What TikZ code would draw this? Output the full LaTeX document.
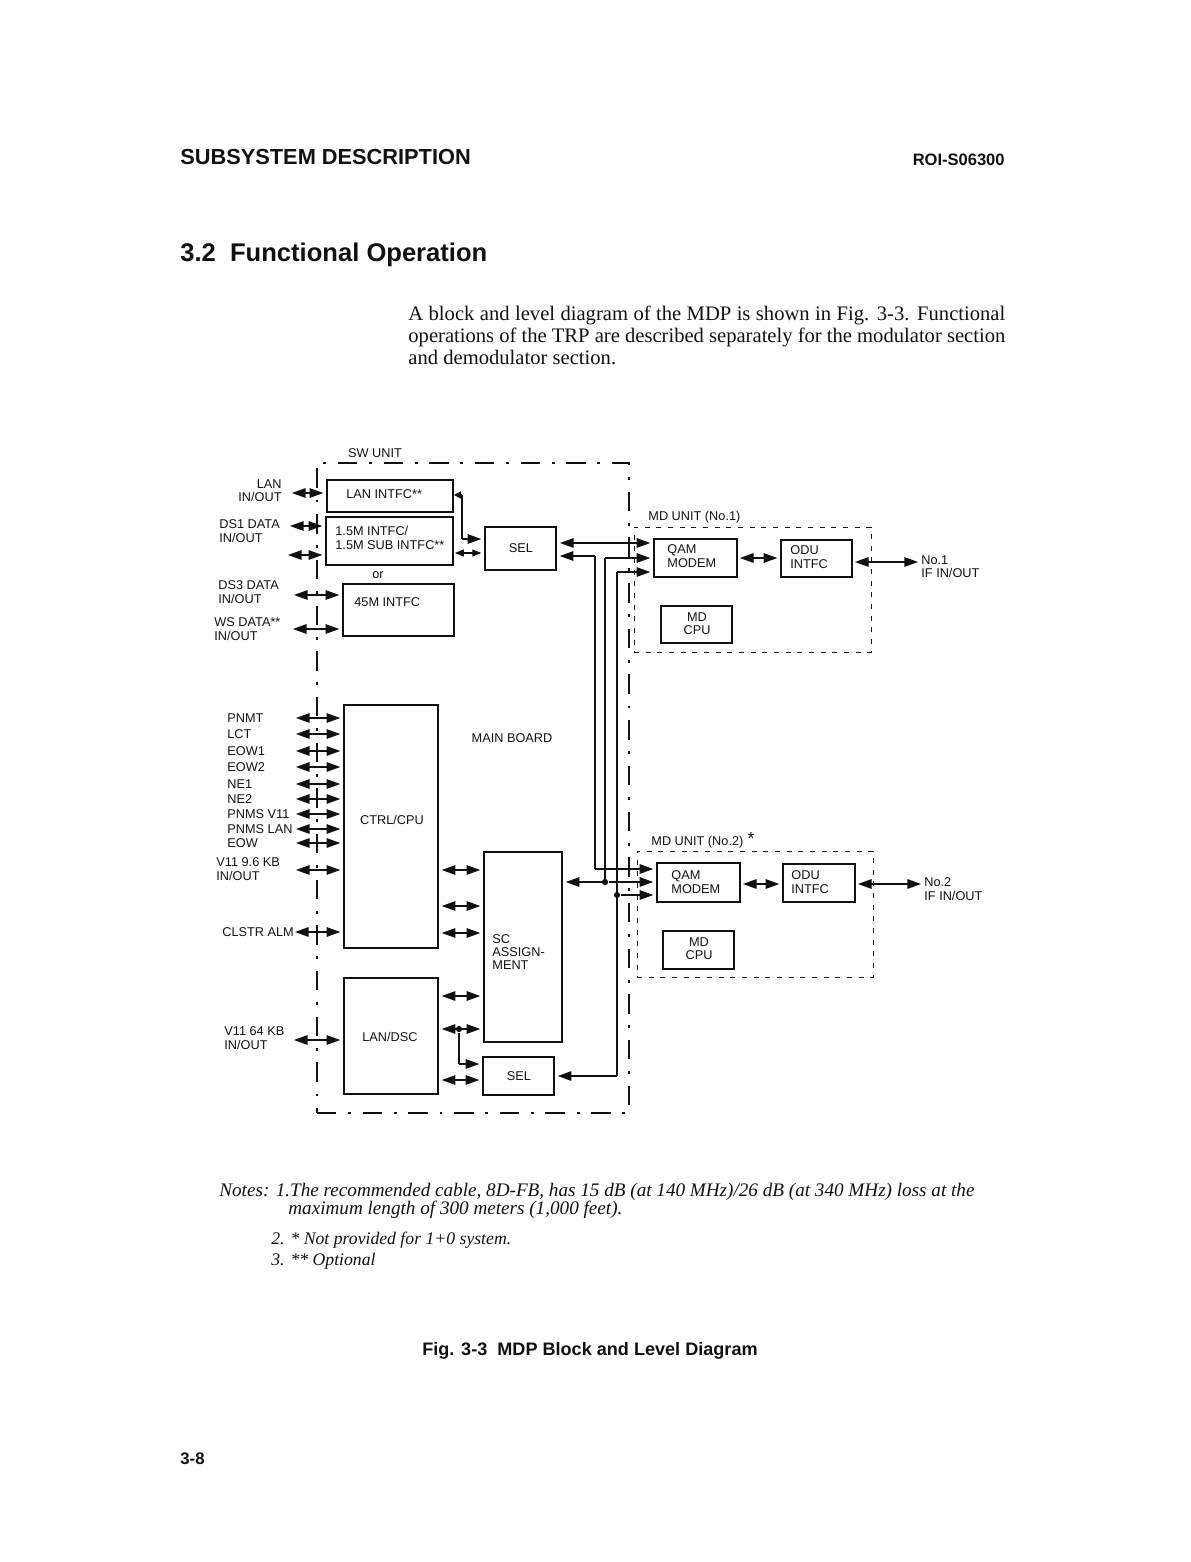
\documentclass[tikz,border=0pt]{standalone}
\usepackage{fontspec}
\usetikzlibrary{arrows.meta,fit}
\setmainfont{Liberation Serif}
\setsansfont{Liberation Sans}
\definecolor{ink}{HTML}{111111}

\begin{document}
\begin{tikzpicture}[x=0.5143pt, y=-0.5143pt, font=\sffamily, color=ink,
  blk/.style={draw=ink, line width=0.85pt, inner sep=0pt},
  swframe/.style={draw=ink, line width=0.55pt, inner sep=0pt,
                  dash pattern=on 10pt off 6pt on 1.5pt off 6pt},
  mdframe/.style={draw=ink, line width=0.5pt, inner sep=0pt,
                  dash pattern=on 2.6pt off 3.4pt},
  lbl/.style={font=\sffamily\fontsize{6.55}{6.8}\selectfont, inner sep=0pt},
  notetxt/.style={font=\rmfamily\itshape\fontsize{9.85}{10}\selectfont, anchor=west, inner sep=0pt},
  notesub/.style={font=\rmfamily\itshape\fontsize{9.1}{10}\selectfont, anchor=west, inner sep=0pt},
  biarr/.style={draw=ink, line width=0.55pt, shorten <=1.5pt, shorten >=1.5pt,
                {Triangle[length=7pt,width=4.9pt]}-{Triangle[length=7pt,width=4.9pt]}},
  biarrsmall/.style={draw=ink, line width=0.55pt, shorten <=1pt, shorten >=1.5pt,
                {Triangle[length=4.6pt,width=3.6pt]}-{Triangle[length=4.6pt,width=3.6pt]}},
  oneway/.style={draw=ink, line width=0.55pt, shorten >=1.5pt,
                 -{Triangle[length=7pt,width=4.9pt]}},
  onesmall/.style={draw=ink, line width=0.55pt, -{Triangle[length=3.6pt,width=3.6pt]}},
  wire/.style={draw=ink, line width=0.55pt},
  jdot/.style={circle, fill=ink, minimum size=3.2pt, inner sep=0pt}]
\useasboundingbox (0,0) rectangle (1190,1562);

% page text
\node[font=\sffamily\bfseries\fontsize{11.2}{13}\selectfont, anchor=west, inner sep=0pt] (head) at (180,157) {SUBSYSTEM DESCRIPTION};
\node[font=\sffamily\bfseries\fontsize{8.5}{12}\selectfont, anchor=east, inner sep=0pt] (roi) at (1005,160) {ROI-S06300};
\node[font=\sffamily\bfseries\fontsize{13.15}{16}\selectfont, anchor=west, inner sep=0pt] (sect) at (180,255) {3.2\ \ Functional Operation};
\node[font=\rmfamily\fontsize{10.6}{11.3}\selectfont, anchor=north west, inner sep=0pt, text width=307pt, align=justify] (intro) at (408,306)
  {A block and level diagram of the MDP is shown in Fig. 3-3. Functional operations of the TRP are described separately for the modulator section and demodulator section.};

% frames
\node[swframe, fit={(317,463) (629,1113)}] (swunit) {};
\node[lbl] (swlabel) at (375,453) {SW UNIT};
\node[mdframe, fit={(634,527) (871,652)}] (mdone) {};
\node[lbl, anchor=west] (mdonelabel) at (648,517) {MD UNIT (No.1)};
\node[mdframe, fit={(637,851) (873,977)}] (mdtwo) {};
\node[lbl, anchor=west] (mdtwolabel) at (651,842) {MD UNIT (No.2)};
\node[lbl, font=\sffamily\fontsize{9}{9}\selectfont] (mdtwostar) at (751,838) {*};

% blocks, upper left
\node[blk, fit={(327,480) (453,512)}] (lanintfc) {};
\node[lbl, anchor=west] (lanintfctxt) at (346,494) {LAN INTFC**};
\node[blk, fit={(326,517) (453,565)}] (subintfc) {};
\node[lbl, anchor=west, align=left] (subintfctxt) at (335,538) {1.5M INTFC/\\1.5M SUB INTFC**};
\node[lbl] (ortxt) at (378,575) {or};
\node[blk, fit={(343,584) (454,636)}] (intfcfour) {};
\node[lbl, anchor=west] (intfcfourtxt) at (354,602) {45M INTFC};
\node[blk, fit={(485,527) (556,570)}] (selup) {};
\node[lbl] (seluptxt) at (521,548) {SEL};

% blocks, main board
\node[blk, fit={(344,705) (438,948)}] (ctrlcpu) {};
\node[lbl] (ctrlcputxt) at (392,820) {CTRL/CPU};
\node[lbl] (mainboard) at (512,738) {MAIN BOARD};
\node[blk, fit={(484,852) (562,1042)}] (scassign) {};
\node[lbl, anchor=west, align=left] (scassigntxt) at (492,952) {SC\\ASSIGN-\\MENT};
\node[blk, fit={(344,978) (438,1094)}] (landsc) {};
\node[lbl] (landsctxt) at (390,1037) {LAN/DSC};
\node[blk, fit={(483,1057) (554,1095)}] (seldown) {};
\node[lbl] (seldowntxt) at (519,1076) {SEL};

% blocks, MD units
\node[blk, fit={(654,539) (737,577)}] (qamone) {};
\node[lbl, anchor=west, align=left] (qamonetxt) at (667,556) {QAM\\MODEM};
\node[blk, fit={(781,540) (852,577)}] (oduone) {};
\node[lbl, anchor=west, align=left] (oduonetxt) at (790,557) {ODU\\INTFC};
\node[blk, fit={(661,606) (732,643)}] (cpuone) {};
\node[lbl, align=center] (cpuonetxt) at (697,624) {MD\\CPU};
\node[blk, fit={(657,863) (740,902)}] (qamtwo) {};
\node[lbl, anchor=west, align=left] (qamtwotxt) at (671,882) {QAM\\MODEM};
\node[blk, fit={(783,864) (855,902)}] (odutwo) {};
\node[lbl, anchor=west, align=left] (odutwotxt) at (791,882) {ODU\\INTFC};
\node[blk, fit={(663,931) (734,969)}] (cputwo) {};
\node[lbl, align=center] (cputwotxt) at (699,949) {MD\\CPU};

% outer labels
\node[lbl, anchor=east, align=right] (lanlbl) at (282,491) {LAN\\IN/OUT};
\node[lbl, anchor=west, align=left] (dsonelbl) at (219,531) {DS1 DATA\\IN/OUT};
\node[lbl, anchor=west, align=left] (dsthreelbl) at (218,592) {DS3 DATA\\IN/OUT};
\node[lbl, anchor=west, align=left] (wslbl) at (214,629) {WS DATA**\\IN/OUT};
\node[lbl, anchor=west, align=left] (vninelbl) at (216,869) {V11 9.6 KB\\IN/OUT};
\node[lbl, anchor=west] (clstrlbl) at (222,932) {CLSTR ALM};
\node[lbl, anchor=west, align=left] (vsixlbl) at (224,1038) {V11 64 KB\\IN/OUT};
\node[lbl, anchor=west, align=left] (ifonelbl) at (921,567) {No.1\\IF IN/OUT};
\node[lbl, anchor=west, align=left] (iftwolbl) at (924,889) {No.2\\IF IN/OUT};

% arrows on the left
\coordinate (lanin) at (289,493);
\coordinate (dsoneA) at (287,526);
\coordinate (dsoneB) at (285,555);
\coordinate (dsthreein) at (291,595);
\coordinate (wsin) at (290,629);
\coordinate (vninein) at (293,870);
\coordinate (clstrin) at (292,932);
\coordinate (vsixin) at (291,1040);
\draw[biarr] (lanin) -- (lanintfc.west |- lanin);
\draw[biarr] (dsoneA) -- (subintfc.west |- dsoneA);
\draw[biarr] (dsoneB) -- (subintfc.west |- dsoneB);
\draw[biarr] (dsthreein) -- (intfcfour.west |- dsthreein);
\draw[biarr] (wsin) -- (intfcfour.west |- wsin);
\draw[biarr] (vninein) -- (ctrlcpu.west |- vninein);
\draw[biarr] (clstrin) -- (ctrlcpu.west |- clstrin);
\draw[biarr] (vsixin) -- (landsc.west |- vsixin);
\foreach \lbltxt/\lblname/\y in {PNMT/pnmt/718, LCT/lct/734, EOW1/eowa/751, EOW2/eowb/767,
    NE1/nea/784, NE2/neb/799, PNMS V11/pnmsv/814, PNMS LAN/pnmsl/829, EOW/eow/843}{
  \node[lbl, anchor=west] (\lblname) at (227,\y) {\lbltxt};
  \coordinate (\lblname-in) at (293,\y);
  \draw[biarr] (\lblname-in) -- (ctrlcpu.west |- \lblname-in);}

% arrows between blocks
\coordinate (lanturn) at (462,495);
\coordinate (lanback) at (462,539);
\draw[onesmall] (lanturn) -- (lanintfc.east |- lanturn);
\draw[wire] (lanturn) -- (lanback);
\draw[oneway] (lanback) -- (selup.west |- lanback);
\coordinate (subsel) at (453,553);
\draw[biarrsmall] (subsel) -- (selup.west |- subsel);
\foreach \y/\rowname in {870/rowa, 906/rowb, 933/rowc}{
  \coordinate (\rowname) at (ctrlcpu.east |- 0,\y);
  \draw[biarr] (\rowname) -- (scassign.west |- \rowname);}
\foreach \y/\rowname in {996/rowd, 1029/rowe}{
  \coordinate (\rowname) at (landsc.east |- 0,\y);
  \draw[biarr] (\rowname) -- (scassign.west |- \rowname);}
\coordinate (rowf) at (landsc.east |- 0,1080);
\draw[biarr] (rowf) -- (seldown.west |- rowf);
\node[jdot] (lanjoin) at (459,1029) {};
\coordinate (lanjoinb) at (459,1064);
\draw[wire] (lanjoin) -- (lanjoinb);
\draw[oneway] (lanjoinb) -- (seldown.west |- lanjoinb);

% arrows to the MD units
\coordinate (qaminA) at (557,543);
\draw[biarr] (qaminA) -- (qamone.west |- qaminA);
\coordinate (selbackA) at (595,556);
\coordinate (selbackB) at (595,869);
\draw[oneway] (selbackA) -- (selup.east |- selbackA);
\draw[wire] (selbackA) -- (selbackB);
\draw[oneway] (selbackB) -- (qamtwo.west |- selbackB);
\node[jdot] (jointA) at (605,882) {};
\coordinate (qamtopA) at (605,558);
\draw[wire] (jointA) -- (qamtopA);
\draw[oneway] (qamtopA) -- (qamone.west |- qamtopA);
\draw[oneway] (jointA) -- (scassign.east |- jointA);
\draw[oneway] (jointA) -- (qamtwo.west |- jointA);
\node[jdot] (jointB) at (617,895) {};
\coordinate (qamtopB) at (617,572);
\coordinate (seldownin) at (617,1076);
\draw[wire] (qamtopB) -- (seldownin);
\draw[oneway] (qamtopB) -- (qamone.west |- qamtopB);
\draw[oneway] (jointB) -- (qamtwo.west |- jointB);
\draw[oneway] (seldownin) -- (seldown.east |- seldownin);
\coordinate (qamoneout) at (737,558);
\draw[biarr] (qamoneout) -- (oduone.west |- qamoneout);
\coordinate (qamtwoout) at (740,884);
\draw[biarr] (qamtwoout) -- (odutwo.west |- qamtwoout);
\coordinate (oduonein) at (852,562);
\draw[biarr] (oduonein) -- (ifonelbl.west |- oduonein);
\coordinate (odutwoin) at (855,884);
\draw[biarr] (odutwoin) -- (iftwolbl.west |- odutwoin);

% notes and caption
\node[notetxt] (notea) at (219,1192)
  {Notes: 1.The recommended cable, 8D-FB, has 15 dB (at 140 MHz)/26 dB (at 340 MHz) loss at the};
\node[notetxt] (noteb) at (288,1210)
  {maximum length of 300 meters (1,000 feet).};
\node[notesub] (notec) at (271,1240)
  {2. * Not provided for 1+0 system.};
\node[notesub] (noted) at (271,1261)
  {3. ** Optional};
\node[font=\sffamily\bfseries\fontsize{9.3}{11}\selectfont, inner sep=0pt] (figcap) at (590,1351)
  {Fig. 3-3\ \ MDP Block and Level Diagram};
\node[font=\sffamily\bfseries\fontsize{8.6}{11}\selectfont, anchor=west, inner sep=0pt] (pageno) at (180,1459) {3-8};

\end{tikzpicture}
\end{document}
